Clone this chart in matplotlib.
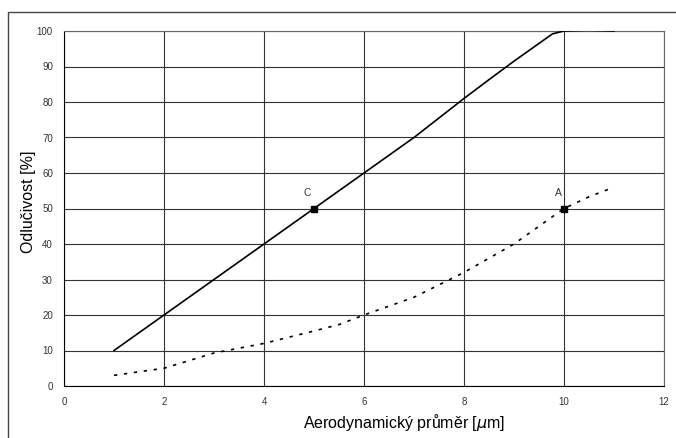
import numpy as np
import matplotlib.pyplot as plt
from matplotlib.patches import Rectangle

# solid curve
x_c = [1, 2, 3, 4, 5, 6, 6.7, 7, 8, 8.5, 9, 9.5, 9.77, 10, 10.5, 11]
y_c = [10, 20, 30, 40, 50, 60, 67, 70, 81, 86.3, 91.5, 96.5, 99.2, 100, 100.2, 100]
# dotted curve
x_a = [1, 2, 3, 4, 5, 5.5, 6, 7, 8, 9, 10, 10.5, 11]
y_a = [3, 5, 9.3, 12, 15.5, 17.3, 20, 25, 32, 40, 50, 53.3, 56]
# marked points
pt_x = [5, 10]
pt_y = [50, 50]
pt_lab = ['C', 'A']

xticks = [0, 2, 4, 6, 8, 10, 12]
yticks = list(range(0, 101, 10))

plt.rcParams['font.family'] = ['Liberation Sans', 'DejaVu Sans']

fig = plt.figure(figsize=(6.76, 4.38), dpi=100)
ax = fig.add_axes([64/676, 1-386/438, 600/676, 355/438])

# outer frame round the whole thing
fig.patches.append(Rectangle((8/676, -0.05), 1.0, 1-12/438+0.05, transform=fig.transFigure,
                             fill=False, ec='#444444', lw=1.0))

ax.plot(x_c, y_c, color='black', lw=1.2, zorder=3)
ax.plot(x_a, y_a, color='black', lw=1.2, ls=(0, (2, 4)), zorder=3)
ax.plot(pt_x, pt_y, 's', color='black', ms=5, zorder=4)
for px, py, lb in zip(pt_x, pt_y, pt_lab):
    ax.text(px - 0.05, py + 3, lb, ha='right', va='bottom', fontsize=7.5, color='#333333')

ax.set_xlim(0, 12)
ax.set_ylim(0, 100)
ax.set_xticks(xticks)
ax.set_yticks(yticks)
ax.tick_params(length=0, labelsize=7, colors='#333333', pad=8)
ax.grid(True, color='#333333', lw=0.8)
ax.set_axisbelow(True)
for s in ['left', 'bottom']:
    ax.spines[s].set_color('black')
for s in ['top', 'right']:
    ax.spines[s].set_color('#666666')

ax.set_ylabel('Odlučivost [%]', fontsize=11.5)
ax.set_xlabel(r'Aerodynamický průměr [$\mu$m]', fontsize=11.5)
ax.yaxis.set_label_coords(-0.046, 0.52)
ax.xaxis.set_label_coords(0.567, -0.072)

fig.savefig('out.png', dpi=100)
